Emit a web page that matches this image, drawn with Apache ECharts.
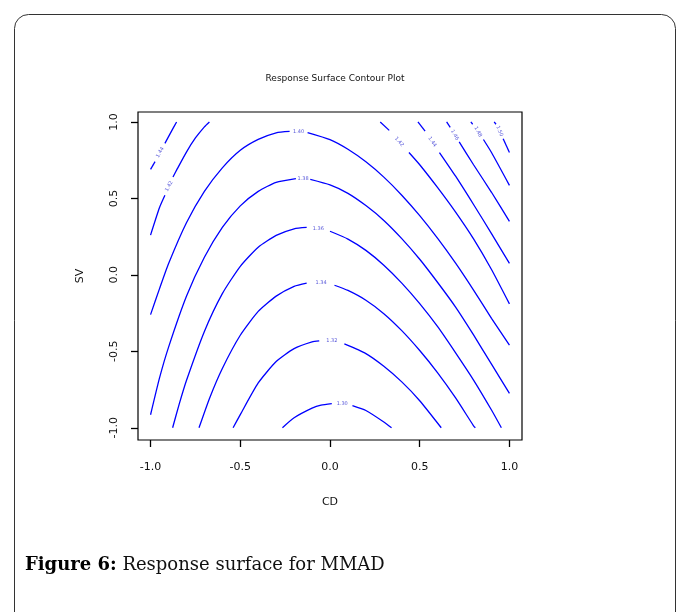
<!DOCTYPE html>
<html><head><meta charset="utf-8">
<script src="https://cdn.jsdelivr.net/npm/echarts@6/dist/echarts.min.js"></script>
<style>html,body{margin:0;padding:0;background:#fff}#c{width:677px;height:612px}</style>
</head><body><div id="c"></div>
<script>
// ---- data ----
const xTicks = [-1, -0.5, 0, 0.5, 1];
const yTicks = [-1, -0.5, 0, 0.5, 1];
const tickLabels = ['-1.0', '-0.5', '0.0', '0.5', '1.0'];
const chartTitle = 'Response Surface Contour Plot';
const xName = 'CD';
const yName = 'SV';
// contour lines (CD, SV); null = gap where the level label sits
const L1 = [[-0.265,-1.0],[-0.2,-0.935],[-0.1,-0.872],[-0.05,-0.852],[0.01,-0.842],null,[0.125,-0.855],[0.2,-0.887],[0.3,-0.962],[0.343,-1.0]];
const L2 = [[-0.54,-1.0],[-0.5,-0.914],[-0.4,-0.707],[-0.3,-0.567],[-0.2,-0.482],[-0.1,-0.438],[-0.06,-0.432],null,[0.08,-0.452],[0.2,-0.515],[0.3,-0.598],[0.4,-0.70],[0.5,-0.823],[0.62,-1.0]];
const L3 = [[-0.73,-1.0],[-0.67,-0.803],[-0.6,-0.612],[-0.5,-0.395],[-0.4,-0.239],[-0.3,-0.139],[-0.2,-0.075],[-0.13,-0.054],null,[0.025,-0.068],[0.1,-0.102],[0.2,-0.166],[0.3,-0.254],[0.4,-0.365],[0.5,-0.495],[0.6,-0.641],[0.7,-0.805],[0.8,-0.987],[0.81,-1.0]];
const L4 = [[-0.877,-1.0],[-0.84,-0.844],[-0.8,-0.691],[-0.7,-0.37],[-0.6,-0.123],[-0.5,0.056],[-0.4,0.181],[-0.3,0.258],[-0.2,0.301],[-0.13,0.31],null,[0.0,0.285],[0.1,0.234],[0.2,0.16],[0.3,0.063],[0.4,-0.054],[0.5,-0.188],[0.6,-0.339],[0.7,-0.51],[0.8,-0.688],[0.9,-0.884],[0.955,-1.0]];
const L5 = [[-1,-0.915],[-0.95,-0.674],[-0.9,-0.474],[-0.8,-0.14],[-0.7,0.115],[-0.6,0.31],[-0.5,0.451],[-0.4,0.546],[-0.3,0.605],[-0.19,0.63],null,[-0.11,0.624],[0,0.588],[0.1,0.533],[0.2,0.453],[0.3,0.356],[0.4,0.237],[0.5,0.102],[0.6,-0.05],[0.7,-0.211],[0.8,-0.393],[0.9,-0.584],[1.0,-0.775]];
const L6 = [[-1,-0.26],[-0.95,-0.09],[-0.9,0.073],[-0.8,0.341],[-0.7,0.546],[-0.6,0.70],[-0.5,0.815],[-0.4,0.886],[-0.3,0.929],[-0.225,0.938],null,[-0.125,0.93],[0,0.884],[0.1,0.821],[0.2,0.739],[0.3,0.639],[0.4,0.521],[0.5,0.387],[0.6,0.238],[0.7,0.076],[0.8,-0.10],[0.9,-0.284],[1.0,-0.46]];
const L7left = [[-1,0.26],[-0.95,0.44],[-0.92,0.52],null,[-0.875,0.64],[-0.85,0.696],[-0.8,0.803],[-0.75,0.895],[-0.7,0.968],[-0.672,1.0]];
const L7right = [[0.28,1.0],[0.33,0.945],null,[0.44,0.80],[0.5,0.72],[0.6,0.57],[0.7,0.41],[0.8,0.235],[0.9,0.035],[1.0,-0.19]];
const L8left = [[-1,0.69],[-0.975,0.74],null,[-0.92,0.86],[-0.89,0.925],[-0.855,1.0]];
const L8right = [[0.49,1.0],[0.53,0.94],null,[0.61,0.80],[0.7,0.645],[0.8,0.46],[0.9,0.27],[1.0,0.075]];
const L9 = [[0.65,1.0],[0.67,0.965],null,[0.72,0.87],[0.8,0.72],[0.9,0.54],[1.0,0.35]];
const L10 = [[0.785,1.0],[0.795,0.985],null,[0.855,0.885],[0.9,0.80],[1.0,0.585]];
const L11 = [[0.915,1.0],[0.925,0.985],null,[0.965,0.89],[1.0,0.80]];
// contour level labels and where they sit
const levelText = ['1.30','1.32','1.34','1.36','1.38','1.40','1.42','1.42','1.44','1.44','1.46','1.48','1.50'];
const levelAt = [[0.068,-0.842],[0.01,-0.433],[-0.05,-0.05],[-0.065,0.305],[-0.15,0.63],[-0.175,0.935],[-0.897,0.58],[0.385,0.87],[-0.947,0.80],[0.57,0.87],[0.695,0.915],[0.825,0.935],[0.945,0.94]];
const levelRot = [0,0,0,0,0,0,60,-48,60,-55,-60,-62,-68];

const caption1 = 'Figure 6:';
const caption2 = ' Response surface for MMAD';

// ---- build ----
const curves = [L1,L2,L3,L4,L5,L6,L7left,L7right,L8left,L8right,L9,L10,L11];
function segments(pts){
  const out=[]; let cur=[];
  pts.forEach(p=>{ if(p===null){ if(cur.length) out.push(cur); cur=[]; } else cur.push(p); });
  if(cur.length) out.push(cur);
  return out;
}
const series = [];
curves.forEach(c => segments(c).forEach(seg => series.push({
  type:'line', data:seg, showSymbol:false, smooth:0.2, silent:true,
  lineStyle:{color:'#0000ff', width:1.3}, z:2
})));
series.push({
  type:'scatter', symbolSize:0, silent:true, z:3,
  data: levelAt.map((p,i)=>({value:p, label:{formatter:levelText[i], rotate:levelRot[i]}})),
  label:{show:true, position:'inside', color:'#2a2ad0', fontSize:5, fontFamily:'DejaVu Sans'}
});
const fmtX = v => tickLabels[xTicks.indexOf(Math.round(v*10)/10)] ?? '';
const fmtY = v => tickLabels[yTicks.indexOf(Math.round(v*10)/10)] ?? '';
const chart = echarts.init(document.getElementById('c'), null, {renderer:'canvas'});
chart.setOption({
  animation:false,
  backgroundColor:'#fff',
  title:{text:chartTitle, left:330, top:69, textAlign:'center',
    textStyle:{fontSize:9, fontWeight:'normal', color:'#111', fontFamily:'DejaVu Sans'}},
  grid:{left:138, right:155, top:112, bottom:172, show:true, borderColor:'#000', borderWidth:1.2, backgroundColor:'transparent'},
  xAxis:{type:'value', min:-1.07, max:1.07, splitLine:{show:false},
    axisLine:{show:false, onZero:false},
    axisTick:{show:true, customValues:xTicks, length:7, inside:false, lineStyle:{color:'#000', width:1.3}},
    axisLabel:{customValues:xTicks, formatter:fmtX, margin:22, fontSize:11, color:'#111', fontFamily:'DejaVu Sans'},
    name:xName, nameLocation:'middle', nameGap:57, nameTextStyle:{fontSize:11, color:'#111', fontFamily:'DejaVu Sans'}},
  yAxis:{type:'value', min:-1.08, max:1.065, splitLine:{show:false},
    axisLine:{show:false, onZero:false},
    axisTick:{show:true, customValues:yTicks, length:7, inside:false, lineStyle:{color:'#000', width:1.3}},
    axisLabel:{customValues:yTicks, formatter:fmtY, rotate:90, margin:18, fontSize:11, color:'#111', fontFamily:'DejaVu Sans'},
    name:yName, nameLocation:'middle', nameRotate:90, nameGap:52, nameTextStyle:{fontSize:11, color:'#111', fontFamily:'DejaVu Sans'}},
  graphic:[
    {type:'rect', silent:true, shape:{x:14.5, y:14.5, width:661, height:660, r:14}, style:{fill:'none', stroke:'#333', lineWidth:1}},
    {type:'text', silent:true, left:25, top:556, style:{
      text:'{b|'+caption1+'}{n|'+caption2+'}',
      rich:{b:{fontFamily:'DejaVu Serif', fontWeight:'bold', fontSize:18, fill:'#000'},
            n:{fontFamily:'DejaVu Serif', fontSize:18, fill:'#111'}}}}
  ],
  series:series
});
</script></body></html>
